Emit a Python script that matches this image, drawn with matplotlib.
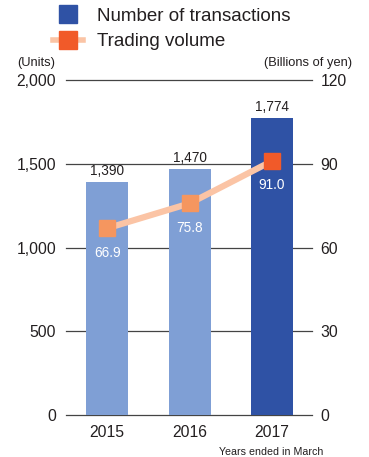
import matplotlib.pyplot as plt
from matplotlib.lines import Line2D

plt.rcParams['font.family'] = ['Liberation Sans', 'DejaVu Sans']

years = ['2015', '2016', '2017']
transactions = [1390, 1470, 1774]
volume = [66.9, 75.8, 91.0]

bar_colors = ['#7f9fd5', '#7f9fd5', '#2f52a5']
marker_colors = ['#f5965f', '#f5965f', '#f15a29']
line_color = '#fbc4a5'
grid_color = '#444444'
text_color = '#231f20'

fig = plt.figure(figsize=(3.69, 4.57), dpi=100)
ax = fig.add_axes([0.1789, 0.0919, 0.6667, 0.733])
ax2 = ax.twinx()

x = range(len(years))
ax.bar(x, transactions, width=0.51, color=bar_colors, zorder=2)
for i, v in enumerate(transactions):
    ax.annotate(f'{v:,}', (i, v), xytext=(0, 3), textcoords='offset points',
                ha='center', va='bottom', fontsize=9.8, color=text_color)

ax.set_ylim(0, 2000)
ax.set_yticks([0, 500, 1000, 1500, 2000])
ax.set_yticklabels(['0', '500', '1,000', '1,500', '2,000'])
ax.set_xlim(-0.5, 2.485)
ax.set_xticks(list(x))
ax.set_xticklabels(years)
for yv in [0, 500, 1000, 1500, 2000]:
    ax.axhline(yv, color=grid_color, lw=0.9, zorder=1, clip_on=False)

ax2.set_ylim(0, 120)
ax2.set_yticks([0, 30, 60, 90, 120])
ax2.plot(list(x), volume, color=line_color, lw=4.5, zorder=3)
for i, v in enumerate(volume):
    ax2.plot(i, v, marker='s', ms=12, color=marker_colors[i], zorder=4)
    ax2.annotate(f'{v:.1f}', (i, v), xytext=(0, -12.5), textcoords='offset points',
                 ha='center', va='top', fontsize=9.8, color='white', zorder=5)

for a in (ax, ax2):
    for s in a.spines.values():
        s.set_visible(False)
    a.tick_params(length=0, labelsize=11.3, colors=text_color)
ax.tick_params(axis='y', pad=7)
ax2.tick_params(axis='y', pad=6)
ax.tick_params(axis='x', pad=7)

fig.text(0.046, 0.855, '(Units)', fontsize=9.3, color=text_color)
fig.text(0.955, 0.855, '(Billions of yen)', fontsize=9.3, color=text_color, ha='right')
fig.text(0.876, 0.004, 'Years ended in March', fontsize=7.7, color=text_color, ha='right')

handles = [
    Line2D([], [], ls='none', marker='s', ms=12.5, color='#2f52a5'),
    Line2D([], [], color=line_color, lw=4, marker='s', ms=12.5,
           markerfacecolor='#f15a29', markeredgecolor='#f15a29'),
]
fig.legend(handles, ['Number of transactions', 'Trading volume'],
           loc='upper left', bbox_to_anchor=(0.097, 1.02), frameon=False,
           fontsize=13.5, handlelength=1.6, handletextpad=0.75, labelspacing=0.45,
           labelcolor=text_color)

fig.savefig('out.png', dpi=100)
